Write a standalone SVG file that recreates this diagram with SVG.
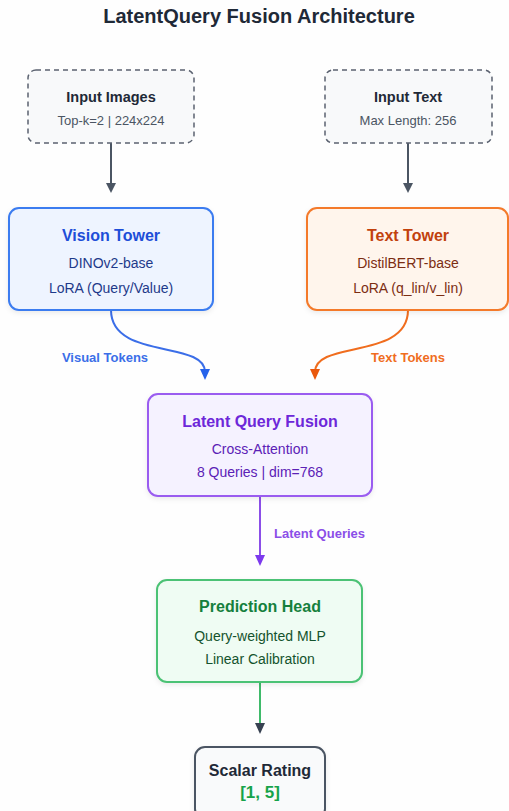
<svg xmlns="http://www.w3.org/2000/svg" width="509" height="811" viewBox="0 0 509 811">
<style>
text{font-family:"Liberation Sans",Arial,sans-serif;text-anchor:middle}
.t{font-weight:bold;font-size:16px}
.s{font-size:14px}
.l{font-weight:bold;font-size:13px}
</style>
<defs>
<filter id="sh" x="-10%" y="-10%" width="120%" height="130%"><feDropShadow dx="0" dy="2" stdDeviation="2.5" flood-color="#000" flood-opacity="0.08"/></filter>
</defs>
<rect width="509" height="811" fill="#fefefe"/>
<text x="259" y="23" style="font-weight:bold;font-size:20px" fill="#1f2937">LatentQuery Fusion Architecture</text>

<g id="connectors" fill="none" stroke-width="2">
<path d="M111,143 V184" stroke="#4b5563"/>
<path d="M106,183 L116,183 L111,193 z" fill="#4b5563" stroke="none"/>
<path d="M408,143 V184" stroke="#4b5563"/>
<path d="M403,183 L413,183 L408,193 z" fill="#4b5563" stroke="none"/>
<path d="M111,310 C111,360 205,340 205,372" stroke="#3b6ee8"/>
<path d="M200,369 L210,369 L205,380 z" fill="#2563eb" stroke="none"/>
<path d="M408,310 C408,360 315,340 315,372" stroke="#f06d1e"/>
<path d="M310,369 L320,369 L315,380 z" fill="#ea580c" stroke="none"/>
<path d="M260,496 V556" stroke="#8b4ee8"/>
<path d="M255,555 L265,555 L260,566 z" fill="#7c3aed" stroke="none"/>
<path d="M260,682 V724" stroke="#3fba6a"/>
<path d="M255,723 L265,723 L260,734 z" fill="#374151" stroke="none"/>
<text x="105" y="362" class="l" fill="#3b6ee8" stroke="none">Visual Tokens</text>
<text x="408" y="362" class="l" fill="#f06d1e" stroke="none">Text Tokens</text>
<text x="274" y="538" class="l" fill="#8b4ee8" stroke="none" style="text-anchor:start">Latent Queries</text>
</g>

<g id="input-images">
<rect x="28" y="70" width="166" height="73" rx="8" fill="#f8f9fa" stroke="#5b6270" stroke-width="1.5" stroke-dasharray="5,4"/>
<text x="111" y="102" class="t" style="font-size:14.5px" fill="#1f2937">Input Images</text>
<text x="111" y="125" style="font-size:13px" fill="#4b5563">Top-k=2 | 224x224</text>
</g>
<g id="input-text">
<rect x="325" y="70" width="167" height="73" rx="8" fill="#f8f9fa" stroke="#5b6270" stroke-width="1.5" stroke-dasharray="5,4"/>
<text x="408" y="102" class="t" style="font-size:14.5px" fill="#1f2937">Input Text</text>
<text x="408" y="125" style="font-size:13px" fill="#4b5563">Max Length: 256</text>
</g>
<g id="vision-tower">
<rect x="9" y="208" width="204" height="102" rx="10" fill="#eef4ff" stroke="#3b7bf0" stroke-width="2" filter="url(#sh)"/>
<text x="111" y="241" class="t" fill="#1d4ed8">Vision Tower</text>
<text x="111" y="268" class="s" fill="#1e3a8a">DINOv2-base</text>
<text x="111" y="293" class="s" fill="#1e3a8a">LoRA (Query/Value)</text>
</g>
<g id="text-tower">
<rect x="307" y="208" width="201" height="102" rx="10" fill="#fff5ec" stroke="#f47a2c" stroke-width="2" filter="url(#sh)"/>
<text x="408" y="241" class="t" fill="#c2410c">Text Tower</text>
<text x="408" y="268" class="s" fill="#7c2d12">DistilBERT-base</text>
<text x="408" y="293" class="s" fill="#7c2d12">LoRA (q_lin/v_lin)</text>
</g>
<g id="latent-query-fusion">
<rect x="148" y="394" width="224" height="102" rx="10" fill="#f5f2ff" stroke="#9a5cf0" stroke-width="2" filter="url(#sh)"/>
<text x="260" y="427" class="t" fill="#6d28d9">Latent Query Fusion</text>
<text x="260" y="454" class="s" fill="#5b21b6">Cross-Attention</text>
<text x="260" y="477" class="s" fill="#5b21b6">8 Queries | dim=768</text>
</g>
<g id="prediction-head">
<rect x="157" y="580" width="205" height="102" rx="10" fill="#effcf3" stroke="#4cc274" stroke-width="2" filter="url(#sh)"/>
<text x="260" y="612" class="t" fill="#15803d">Prediction Head</text>
<text x="260" y="641" class="s" fill="#14532d">Query-weighted MLP</text>
<text x="260" y="664" class="s" fill="#14532d">Linear Calibration</text>
</g>
<g id="scalar-rating">
<rect x="195" y="747" width="130" height="72" rx="10" fill="#f9fafb" stroke="#4b5563" stroke-width="2" filter="url(#sh)"/>
<text x="260" y="776" class="t" fill="#1f2937">Scalar Rating</text>
<text x="260" y="798" class="t" style="font-size:17px" fill="#16a34a">[1, 5]</text>
</g>
</svg>
